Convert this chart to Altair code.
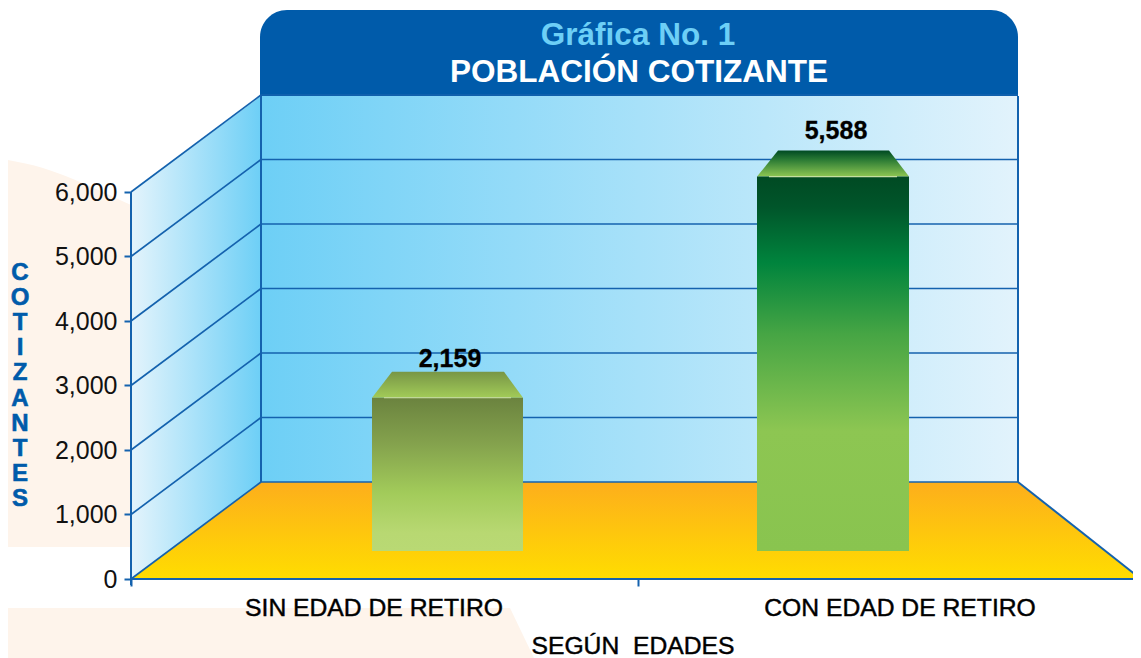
import altair as alt
import pandas as pd

# ---- chart values
categories = ["SIN EDAD DE RETIRO", "CON EDAD DE RETIRO"]
values = [2159, 5588]
y_ticks = [0, 1000, 2000, 3000, 4000, 5000, 6000]
x_ticks = [131, 638]
title_1 = "Gráfica No. 1"
title_2 = "POBLACIÓN COTIZANTE"
x_title = "SEGÚN\u00a0 EDADES"
y_title = "COTIZANTES"

# ---- geometry (reference picture pixels -> scales)
W, H = 1125, 650
PX = 0.0645  # px per unit


def v(py):
    return (579 - py) / PX


xs = alt.Scale(domain=[8, 1133], nice=False, zero=False)
ys = alt.Scale(domain=[v(658), v(8)], nice=False, zero=False)
FONT = "Liberation Sans"
LINE = "#1462AE"
BLUE = "#005BAA"
x_axis = alt.Axis(
    values=x_ticks, labels=False, domain=False, grid=False, title=None,
    offset=-79, tickColor=LINE, tickWidth=2, tickSize=7, zindex=1,
)
y_axis = alt.Axis(
    values=y_ticks, labelExpr="format(datum.value, ',')", domain=False, grid=False, title=None,
    offset=-123, tickColor=LINE, tickWidth=2, tickSize=7, zindex=1,
    labelFont=FONT, labelFontSize=25, labelColor="#111111", labelPadding=7,
    labelOverlap=False, labelBound=False,
)
X = alt.X("x:Q", scale=xs, axis=x_axis)
Y = alt.Y("y:Q", scale=ys, axis=y_axis)


def grad(stops, horizontal=False):
    return alt.Gradient(
        gradient="linear",
        stops=[alt.GradientStop(offset=o, color=c) for o, c in stops],
        x1=0, y1=0,
        x2=1 if horizontal else 0,
        y2=0 if horizontal else 1,
    )


def vband(xp, top, bottom, fill, **kw):
    """area with vertical sides"""
    df = pd.DataFrame({"x": xp, "y": [v(t) for t in top], "y2": [v(b) for b in bottom]})
    return alt.Chart(df).mark_area(fill=fill, **kw).encode(x=X, y=Y, y2="y2:Q")


def hband(yp, left, right, fill, **kw):
    """area with horizontal sides"""
    df = pd.DataFrame({"y": [v(t) for t in yp], "x": left, "x2": right})
    return alt.Chart(df).mark_area(fill=fill, orient="horizontal", **kw).encode(y=Y, x=X, x2="x2:Q")


def rect(x0, x1, top, bottom, fill, **kw):
    df = pd.DataFrame({"x": [x0], "x2": [x1], "y": [top], "y2": [bottom]})
    return alt.Chart(df).mark_rect(fill=fill, **kw).encode(x=X, x2="x2:Q", y=Y, y2="y2:Q")


def rules(rows, width=2, color=LINE):
    df = pd.DataFrame(rows, columns=["x", "y", "x2", "y2"])
    return alt.Chart(df).mark_rule(color=color, strokeWidth=width).encode(x=X, x2="x2:Q", y=Y, y2="y2:Q")


def text(s, x, py, size, color="#000000", weight="normal", **kw):
    df = pd.DataFrame({"x": [x], "y": [v(py)], "t": [s]})
    return alt.Chart(df).mark_text(
        font=FONT, fontSize=size, color=color, fontWeight=weight, baseline="middle", **kw
    ).encode(x=X, y=Y, text="t:N")


layers = []

# background patches
layers.append(vband([8, 43, 87, 131, 140], [160, 168, 185, 205, 209], [547] * 5, "#FEF4EB", interpolate="monotone"))
layers.append(vband([8, 510, 534], [608, 608, 658], [658, 658, 658], "#FEF4EB"))

# header
layers.append(rect(260, 1018, v(10), v(97), BLUE, cornerRadiusTopLeft=27, cornerRadiusTopRight=27))

# walls and floor
layers.append(rect(261, 1018, v(96), v(482), grad([(0, "#6DCFF6"), (1, "#E2F3FC")], True)))
layers.append(vband([131, 261], [192, 96], [579, 482], grad([(0, "#E4F4FC"), (1, "#6DCFF6")], True)))
layers.append(hband([482, 579], [261, 131], [1018, 1141], grad([(0, "#FDAE1C"), (1, "#FFDD00")])))

# grid on both walls
BACK = 97 / PX
rows = []
for t in y_ticks:
    rows.append([131, t, 261, t + BACK])
    rows.append([261, t + BACK, 1018, t + BACK])
layers.append(rules(rows, 1.7))
layers.append(rules([
    [261, v(96), 261, v(482)],
    [1018, v(96), 1018, v(482)],
    [131, v(192), 131, v(585)],
    [131, v(579), 1141, v(579)],
    [1018, v(482), 1141, v(579)],
], 2))

# bars
DEPTH = 42 / PX
BASE = v(551)
bar_x = [(372, 523), (757, 909)]
bar_inset = [(20, 19), (21, 20)]
face_grads = [
    grad([(0, "#6B833F"), (0.3, "#84A24D"), (0.62, "#A2CB5A"), (0.88, "#B8D872"), (1, "#B9D974")]),
    grad([(0, "#004A23"), (0.08, "#00552A"), (0.23, "#00843D"), (0.42, "#46A544"), (0.68, "#8DC652"), (1, "#89C44F")]),
]
top_grads = [
    grad([(0, "#789646"), (1, "#A2CB58")]),
    grad([(0, "#004A23"), (0.35, "#2A7A34"), (1, "#8DC652")]),
]
highlight = ["#CFE0A6", "#C4DFA0"]
for i, val in enumerate(values):
    x0, x1 = bar_x[i]
    a, b = bar_inset[i]
    top = val + DEPTH
    py_top = 579 - top * PX
    layers.append(hband([py_top - 26, py_top], [x0 + a, x0], [x1 - b, x1], top_grads[i]))
    layers.append(rect(x0, x1, top, BASE, face_grads[i]))
    layers.append(rules([[x0 + 12, top, x1 - 12, top]], 1.2, highlight[i]))

# value labels
lab = pd.DataFrame({
    "x": [450, 836],
    "y": [val + DEPTH + 39 / PX if val < 3000 else val + DEPTH + 46 / PX for val in values],
    "val": values,
})
layers.append(
    alt.Chart(lab).mark_text(font=FONT, fontSize=25, fontWeight="bold", color="#000000", baseline="middle",
                             stroke="#000000", strokeWidth=0.3)
    .encode(x=X, y=Y, text=alt.Text("val:Q", format=","))
)

# category labels
for c, cx in zip(categories, [374, 900]):
    layers.append(text(c, cx, 609, 24.7, stroke="#000000", strokeWidth=0.45))
layers.append(text(x_title, 633, 647, 24.7, stroke="#000000", strokeWidth=0.45))

# titles
layers.append(text(title_1, 638, 36, 31.5, "#6DCFF6", "bold"))
layers.append(text(title_2, 639, 73, 31.5, "#FFFFFF", "bold"))

# vertical axis title, one letter per row
ydf = pd.DataFrame({"t": list(y_title)})
ydf["x"] = 20
ydf["y"] = [v(273 + 25.1 * i) for i in range(len(ydf))]
layers.append(
    alt.Chart(ydf).mark_text(font=FONT, fontSize=24, fontWeight="bold", color=BLUE, baseline="middle",
                             stroke=BLUE, strokeWidth=0.6)
    .encode(x=X, y=Y, text="t:N")
)

chart = alt.layer(*layers).properties(
    width=W, height=H, padding=0, autosize=alt.AutoSizeParams(type="none"),
).configure_view(stroke=None)

chart.save("out.html", embed_options={"renderer": "svg", "actions": False})
